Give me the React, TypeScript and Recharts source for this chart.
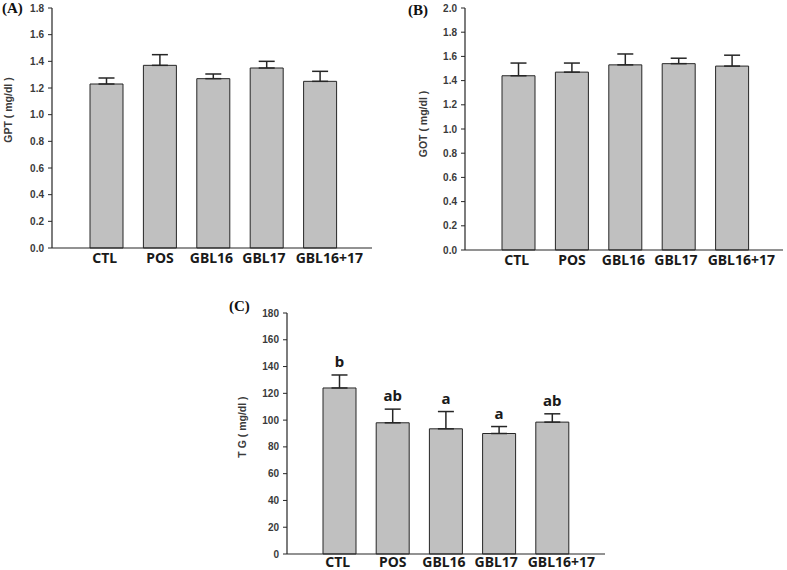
import React from 'react';
import { BarChart, Bar, XAxis, YAxis, ErrorBar, LabelList } from 'recharts';

const categories = ['CTL', 'POS', 'GBL16', 'GBL17', 'GBL16+17'];

// (A) GPT
const gptMean = [1.23, 1.37, 1.27, 1.35, 1.25];
const gptSd = [0.045, 0.08, 0.035, 0.05, 0.075];
const gptTicks = [0, 0.2, 0.4, 0.6, 0.8, 1.0, 1.2, 1.4, 1.6, 1.8];

// (B) GOT
const gotMean = [1.44, 1.47, 1.53, 1.54, 1.52];
const gotSd = [0.105, 0.075, 0.09, 0.045, 0.09];
const gotTicks = [0, 0.2, 0.4, 0.6, 0.8, 1.0, 1.2, 1.4, 1.6, 1.8, 2.0];

// (C) TG
const tgMean = [124, 98, 93.5, 90, 98.5];
const tgSd = [9.7, 10.2, 12.9, 5.2, 6.2];
const tgLetters = ['b', 'ab', 'a', 'a', 'ab'];
const tgTicks = [0, 20, 40, 60, 80, 100, 120, 140, 160, 180];

const makeRows = (mean: number[], sd: number[]) =>
  categories.map((name, i) => ({ name, value: mean[i], err: [0, sd[i]] }));

const gptData = makeRows(gptMean, gptSd);
const gotData = makeRows(gotMean, gotSd);
const tgData = makeRows(tgMean, tgSd);

const INK = '#262626';
const BAR_FILL = '#c0c0c0';
const LABEL_FONT = '"Noto Sans", sans-serif';

const yTick = { fontSize: 10, fontWeight: 700, fill: '#3a3a3a', fontFamily: '"Liberation Sans", Arial, sans-serif' };

// the original labels sit slightly off the bar centres (last one pushed right)
const tickShift = [-2, 0, -2, -3, 9];

const CategoryTick = (props: any) => {
  const { x, y, payload, index } = props;
  return (
    <text
      x={x + (tickShift[index] || 0)}
      y={y}
      dy="0.72em"
      textAnchor="middle"
      fontSize={14}
      fontWeight={700}
      fill="#1a1a1a"
      fontFamily={LABEL_FONT}
    >
      {payload.value}
    </text>
  );
};

// letters above the error bars in (C)
const SigLetter = (props: any) => {
  const { x, y, width, height, index } = props;
  const pxPerUnit = height / tgMean[index];
  const errTop = y - tgSd[index] * pxPerUnit;
  return (
    <text
      x={x + width / 2}
      y={errTop - 8}
      textAnchor="middle"
      fontSize={15}
      fontWeight={700}
      fill="#1a1a1a"
      fontFamily={LABEL_FONT}
    >
      {tgLetters[index]}
    </text>
  );
};

interface PanelProps {
  data: any[];
  ticks: number[];
  digits: number;
  width: number;
  height: number;
  margin: { top: number; right: number; left: number; bottom: number };
  yWidth: number;
  xHeight: number;
  pad: { left: number; right: number };
  tickGap: number;
  letters?: boolean;
}

const Panel = ({ data, ticks, digits, width, height, margin, yWidth, xHeight, pad, tickGap, letters }: PanelProps) => (
  <BarChart width={width} height={height} data={data} margin={margin} style={{ overflow: 'visible' }}>
    <XAxis
      dataKey="name"
      height={xHeight}
      padding={pad}
      tickLine={false}
      tickSize={0}
      tickMargin={tickGap}
      axisLine={{ stroke: INK, strokeWidth: 1.2 }}
      tick={<CategoryTick />}
      interval={0}
    />
    <YAxis
      width={yWidth}
      domain={[ticks[0], ticks[ticks.length - 1]]}
      ticks={ticks}
      tickFormatter={(v: number) => v.toFixed(digits)}
      tickSize={4}
      tickMargin={4}
      tickLine={{ stroke: INK }}
      axisLine={{ stroke: INK, strokeWidth: 1.2 }}
      tick={yTick}
      interval={0}
    />
    <Bar dataKey="value" fill={BAR_FILL} stroke={INK} strokeWidth={1} barSize={33} isAnimationActive={false}>
      <ErrorBar dataKey="err" direction="y" width={8} stroke={INK} strokeWidth={1.5} />
      {letters && <LabelList dataKey="value" content={SigLetter} />}
    </Bar>
  </BarChart>
);

const abs = (left: number, top: number): React.CSSProperties => ({ position: 'absolute', left, top });

const AxisTitle = ({ x, y, text }: { x: number; y: number; text: string }) => (
  <div
    style={{
      position: 'absolute',
      left: x,
      top: y,
      transform: 'translate(-50%, -50%) rotate(-90deg)',
      whiteSpace: 'nowrap',
      fontFamily: '"Liberation Sans", Arial, sans-serif',
      fontWeight: 700,
      fontSize: 10.5,
      lineHeight: '12px',
      color: '#3a3a3a',
    }}
  >
    {text}
  </div>
);

const PanelTag = ({ x, y, text }: { x: number; y: number; text: string }) => (
  <div
    style={{
      position: 'absolute',
      left: x,
      top: y,
      fontFamily: '"Liberation Serif", "Times New Roman", serif',
      fontWeight: 700,
      fontSize: 15,
      lineHeight: '15px',
      color: '#111',
    }}
  >
    {text}
  </div>
);

export default function App() {
  return (
    <div style={{ position: 'absolute', left: 0, top: 0, width: 787, height: 570, overflow: 'hidden', background: '#fff' }}>
      <div style={abs(0, 0)}>
        <Panel
          data={gptData}
          ticks={gptTicks}
          digits={1}
          width={390}
          height={270}
          margin={{ top: 8, right: 18, left: 0, bottom: 0 }}
          yWidth={52}
          xHeight={22}
          pad={{ left: 28, right: 25 }}
          tickGap={5}
        />
      </div>
      <div style={abs(400, 0)}>
        <Panel
          data={gotData}
          ticks={gotTicks}
          digits={1}
          width={387}
          height={272}
          margin={{ top: 8, right: 4, left: 0, bottom: 0 }}
          yWidth={65}
          xHeight={22}
          pad={{ left: 27, right: 24 }}
          tickGap={5}
        />
      </div>
      <div style={abs(220, 290)}>
        <Panel
          data={tgData}
          ticks={tgTicks}
          digits={0}
          width={390}
          height={280}
          margin={{ top: 23, right: 5, left: 0, bottom: 0 }}
          yWidth={67}
          xHeight={16}
          pad={{ left: 26, right: 26 }}
          tickGap={3}
          letters
        />
      </div>

      <AxisTitle x={8} y={110} text="GPT ( mg/dl )" />
      <AxisTitle x={423} y={124} text="GOT ( mg/dl )" />
      <AxisTitle x={242} y={427} text="T G ( mg/dl )" />

      <PanelTag x={2} y={1} text="(A)" />
      <PanelTag x={408} y={3} text="(B)" />
      <PanelTag x={229} y={299} text="(C)" />
    </div>
  );
}
